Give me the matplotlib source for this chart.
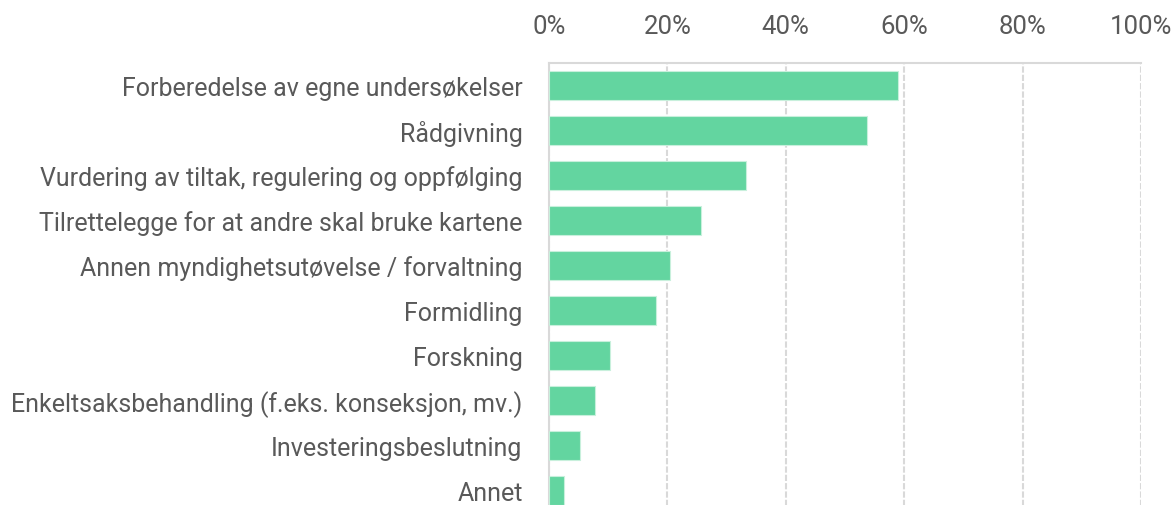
import matplotlib.pyplot as plt
from matplotlib.ticker import FuncFormatter

# data
categories = [
    "Forberedelse av egne undersøkelser",
    "Rådgivning",
    "Vurdering av tiltak, regulering og oppfølging",
    "Tilrettelegge for at andre skal bruke kartene",
    "Annen myndighetsutøvelse / forvaltning",
    "Formidling",
    "Forskning",
    "Enkeltsaksbehandling (f.eks. konseksjon, mv.)",
    "Investeringsbeslutning",
    "Annet",
]
values = [58.9, 53.8, 33.3, 25.6, 20.5, 18.0, 10.3, 7.7, 5.2, 2.6]
xticks = [0, 20, 40, 60, 80, 100]

bar_color = "#63d5a0"
text_color = "#595959"
grid_color = "#d9d9d9"

plt.rcParams['font.family'] = ['Roboto', 'DejaVu Sans']

fig = plt.figure(figsize=(11.76, 5.06), dpi=100)
# axes runs a little past the bottom edge, as in the reference (cropped)
ax = fig.add_axes([549 / 1176, -8 / 506, (1141 - 549) / 1176, 450 / 506])

ypos = list(range(len(categories)))
ax.barh(ypos, values, height=0.655, color=bar_color,
        edgecolor="#c8f0dc", linewidth=0.8, zorder=3)

ax.set_xlim(0, 100)
ax.set_ylim(len(categories) - 0.5, -0.5)
ax.set_yticks(ypos)
ax.set_yticklabels(categories)
ax.set_xticks(xticks)
ax.xaxis.set_major_formatter(FuncFormatter(lambda v, p: f"{v:.0f}%"))
ax.xaxis.tick_top()

ax.tick_params(axis='y', length=0, pad=19, labelsize=18, labelcolor=text_color)
ax.tick_params(axis='x', length=0, pad=18, labelsize=18.5, labelcolor=text_color)

ax.grid(axis='x', color=grid_color, linestyle=(0, (3, 1)), linewidth=1.5, zorder=0)
ax.set_axisbelow(True)

for s in ['right', 'bottom']:
    ax.spines[s].set_visible(False)
ax.spines['top'].set_color(grid_color)
ax.spines['top'].set_linewidth(1.5)
ax.spines['left'].set_color(grid_color)
ax.spines['left'].set_linewidth(1.5)

fig.savefig("out.png", dpi=100)
